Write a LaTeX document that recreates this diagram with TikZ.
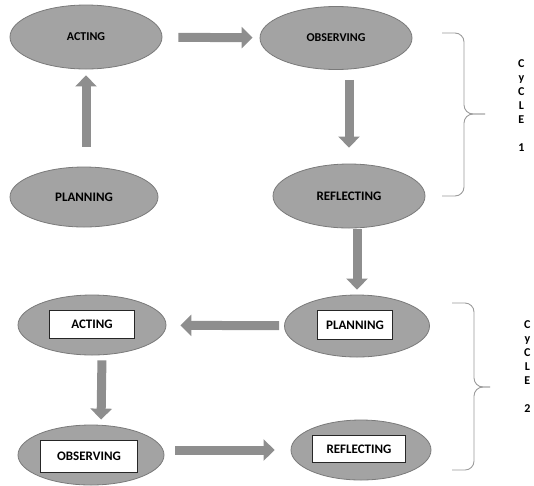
\documentclass[tikz,border=0pt]{standalone}
\usepackage{fontspec}
\setmainfont{Carlito}
\usetikzlibrary{arrows.meta,positioning,calc,shapes.geometric}

\definecolor{phasegray}{HTML}{A3A3A3}
\definecolor{edgegray}{HTML}{7A7A7A}
\definecolor{arrowgray}{HTML}{8E8E8E}
\definecolor{bracegray}{HTML}{9A9A9A}

\begin{document}
\begin{tikzpicture}[x=1pt,y=-1pt,
    blockarrow/.style={line width=9pt,draw=arrowgray,-{Triangle[length=11pt,width=21pt]}},
    phase/.style={ellipse,draw=edgegray,fill=phasegray,line width=0.8pt,inner sep=0pt,
      font=\bfseries\fontsize{12}{14}\selectfont},
    tag/.style={draw=black!85,fill=white,line width=0.8pt,inner sep=0pt,
      font=\bfseries\fontsize{13}{15}\selectfont},
    bracket/.style={draw=bracegray,line width=0.9pt,rounded corners=9pt},
    cycletext/.style={align=center,anchor=north west,inner sep=0pt,
      font=\bfseries\fontsize{12}{14}\selectfont}
  ]
    \useasboundingbox (0,0) rectangle (534,485);

    % cycle 1
    \node[phase,minimum width=152pt,minimum height=64pt] (act1) at (86,37) {ACTING};
    \node[phase,minimum width=152pt,minimum height=63pt] (obs1) at (336,38) {OBSERVING};
    \node[phase,minimum width=148pt,minimum height=60pt,font=\bfseries\fontsize{13}{15}\selectfont]
      (plan1) at (84,197) {PLANNING};
    \node[phase,minimum width=152pt,minimum height=64pt,font=\bfseries\fontsize{13}{15}\selectfont]
      (ref1) at (349,196) {REFLECTING};

    \draw[blockarrow,shorten <=20pt,shorten >=6pt] (plan1.north -| act1) -- (act1.south);
    \draw[blockarrow,shorten <=16pt,shorten >=7pt] (act1) -- (obs1);
    \draw[blockarrow,shorten <=10pt,shorten >=16pt] (obs1.south -| ref1) -- (ref1.north);

    % cycle 2
    \node[phase,minimum width=145pt,minimum height=62pt] (plan2) at (357,326) {};
    \node[phase,minimum width=148pt,minimum height=60pt] (act2) at (92,325) {};
    \node[phase,minimum width=146pt,minimum height=60pt] (obs2) at (91,455) {};
    \node[phase,minimum width=140pt,minimum height=60pt] (ref2) at (361,450) {};

    \node[tag,minimum width=75pt,minimum height=29pt] (plan2tag) at (355,325) {PLANNING};
    \node[tag,minimum width=85pt,minimum height=28pt] (act2tag) at (92,324) {ACTING};
    \node[tag,minimum width=97pt,minimum height=32pt] (obs2tag) at (89,456) {OBSERVING};
    \node[tag,minimum width=93pt,minimum height=27pt] (ref2tag) at (359,449) {REFLECTING};

    \draw[blockarrow,shorten <=1pt,shorten >=5pt] (ref1.south -| plan2) -- (plan2.north);
    \draw[blockarrow,shorten <=5pt,shorten >=14pt] (plan2) -- (act2);
    \draw[blockarrow,shorten <=5pt,shorten >=5pt] ([xshift=10pt]act2.south) -- ([xshift=10pt]obs2.north);
    \draw[blockarrow,shorten <=11pt,shorten >=16pt] (obs2.east |- ref2) -- (ref2.west);

    % braces and labels
    \coordinate (b1top) at (442,33);
    \coordinate (b1bot) at (442,196);
    \coordinate (b1tip) at (485,114);
    \draw[bracket] (b1top) -- (464,33) -- (464,114) -- (b1tip);
    \draw[bracket] (b1bot) -- (464,196) -- (464,114) -- (b1tip);
    \node[cycletext] (cyc1) at (518,59) {C\\y\\C\\L\\E\\[14pt]1};

    \coordinate (b2top) at (452,303);
    \coordinate (b2bot) at (452,470);
    \coordinate (b2tip) at (490,387);
    \draw[bracket] (b2top) -- (474,303) -- (474,387) -- (b2tip);
    \draw[bracket] (b2bot) -- (474,470) -- (474,387) -- (b2tip);
    \node[cycletext] (cyc2) at (524,320) {C\\y\\C\\L\\E\\[14pt]2};
  \end{tikzpicture}
\end{document}
